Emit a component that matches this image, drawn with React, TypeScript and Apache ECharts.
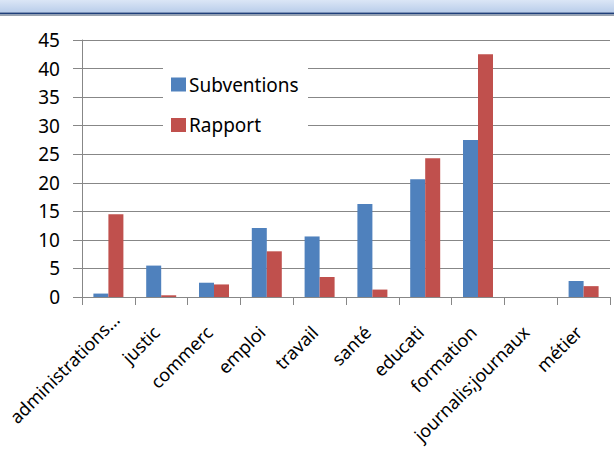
import React, { useEffect, useRef } from "react";
import * as echarts from "echarts";

const categories = [
  "administrations…",
  "justic",
  "commerc",
  "emploi",
  "travail",
  "santé",
  "educati",
  "formation",
  "journalis;journaux",
  "métier",
];
const subventions = [0.6, 5.5, 2.5, 12.1, 10.6, 16.3, 20.6, 27.5, 0, 2.8];
const rapport = [14.5, 0.3, 2.2, 8.0, 3.5, 1.3, 24.3, 42.5, 0, 1.9];
const yTicks = { min: 0, max: 45, interval: 5 };

const FONT = "Noto Sans";
const GRID = "#878787";

export default function App() {
  const ref = useRef<HTMLDivElement>(null);
  useEffect(() => {
    if (!ref.current) return;
    const chart = echarts.init(ref.current, null, { renderer: "svg" });
    chart.setOption({
      animation: false,
      backgroundColor: "#ffffff",
      textStyle: { fontFamily: FONT },
      grid: { left: 82, right: 4, top: 40, bottom: 164 },
      graphic: [
        {
          type: "rect",
          shape: { x: 0, y: 0, width: 614, height: 12.5 },
          style: {
            fill: new echarts.graphic.LinearGradient(0, 0, 0, 1, [
              { offset: 0, color: "#dbe6f6" },
              { offset: 1, color: "#b9cdea" },
            ]),
          },
          z: 10,
        },
        {
          type: "rect",
          shape: { x: 0, y: 12.5, width: 614, height: 2 },
          style: { fill: "#1f3f7a" },
          z: 10,
        },
        {
          type: "rect",
          shape: { x: 0, y: 14.5, width: 614, height: 1.5 },
          style: { fill: "#9aa3b0" },
          z: 10,
        },
        {
          type: "rect",
          shape: { x: 163, y: 52, width: 145, height: 93 },
          style: { fill: "#ffffff" },
          z: 3,
        },
      ],
      legend: {
        orient: "vertical",
        left: 171,
        top: 75,
        padding: 0,
        itemWidth: 15,
        itemHeight: 14,
        itemGap: 21.5,
        icon: "rect",
        z: 5,
        textStyle: {
          fontFamily: FONT,
          fontSize: 19,
          color: "#000",
          lineHeight: 19,
          padding: [0, 0, 0, -2],
        },
        data: ["Subventions", "Rapport"],
      },
      xAxis: {
        type: "category",
        data: categories.map((c, i) =>
          i === 0 ? { value: c, textStyle: { padding: [0, -11, 0, 0] } } : c
        ),
        boundaryGap: true,
        axisLine: { lineStyle: { color: GRID, width: 1 } },
        axisTick: { show: true, length: 8, alignWithLabel: false, lineStyle: { color: GRID } },
        axisLabel: {
          interval: 0,
          rotate: 45,
          margin: 27,
          padding: [0, 7, 0, 0],
          fontFamily: FONT,
          fontSize: 18,
          color: "#000",
        },
        splitLine: { show: false },
      },
      yAxis: {
        type: "value",
        min: yTicks.min,
        max: yTicks.max,
        interval: yTicks.interval,
        axisLine: { show: true, lineStyle: { color: GRID, width: 1 } },
        axisTick: { show: true, length: 9, lineStyle: { color: GRID } },
        axisLabel: {
          margin: 22,
          fontFamily: FONT,
          fontSize: 19,
          color: "#000",
        },
        splitLine: { show: true, lineStyle: { color: GRID, width: 1 } },
      },
      series: [
        {
          name: "Subventions",
          type: "bar",
          data: subventions,
          barWidth: 15,
          barGap: "0%",
          itemStyle: { color: "#4f81bd" },
        },
        {
          name: "Rapport",
          type: "bar",
          data: rapport,
          barWidth: 15,
          barGap: "0%",
          itemStyle: { color: "#c0504d" },
        },
      ],
    });
    return () => chart.dispose();
  }, []);
  return (
    <div
      ref={ref}
      style={{ position: "fixed", left: 0, top: 0, width: 614, height: 461 }}
    />
  );
}
